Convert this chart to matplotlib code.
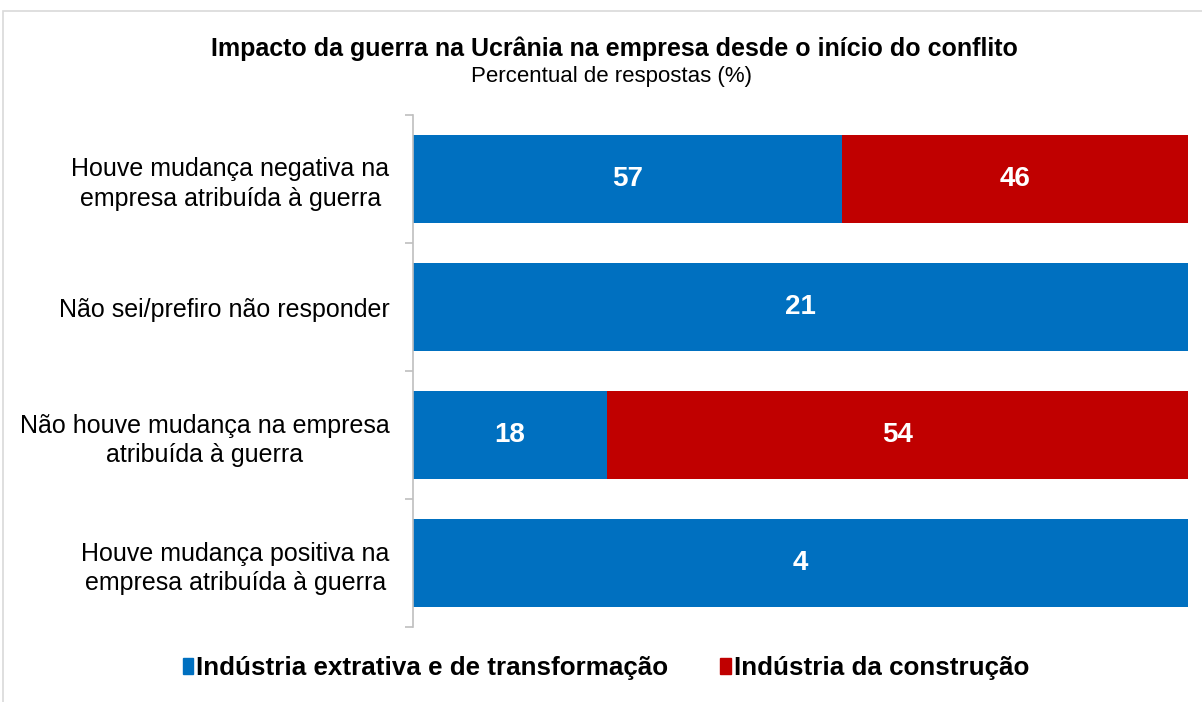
import numpy as np
import matplotlib.pyplot as plt
from matplotlib.patches import Rectangle

plt.rcParams['font.family'] = ['Liberation Sans', 'DejaVu Sans']

categories = ["Houve mudança negativa na\nempresa atribuída à guerra",
              "Não sei/prefiro não responder",
              "Não houve mudança na empresa\natribuída à guerra",
              "Houve mudança positiva na\nempresa atribuída à guerra"]
extrativa = [57, 21, 18, 4]
construcao = [46, 0, 54, 0]
series_names = ["Indústria extrativa e de transformação", "Indústria da construção"]
colors = ["#0070C0", "#C00000"]

blue = np.array(extrativa, dtype=float)
red = np.array(construcao, dtype=float)
total = blue + red
blue_share = blue / total * 100
red_share = red / total * 100

fig = plt.figure(figsize=(12.02, 7.02), dpi=100)
# outer frame
fig.patches.append(Rectangle((3 / 1202, -0.01), 1.1, 1 - 11 / 702 + 0.01,
                             transform=fig.transFigure, fill=False,
                             edgecolor="#D9D9D9", linewidth=1.2))

ax = fig.add_axes([0.3436, 0.1068, 0.6448, 0.7294])
y = np.arange(len(categories))
h = 0.69
ax.barh(y, blue_share, height=h, color=colors[0])
ax.barh(y, red_share, left=blue_share, height=h, color=colors[1])

for i in range(len(categories)):
    if blue[i] > 0:
        ax.text(blue_share[i] / 2, y[i], f"{extrativa[i]:.0f}", ha="center", va="center",
                color="white", fontsize=20, fontweight="bold")
    if red[i] > 0:
        ax.text(blue_share[i] + red_share[i] / 2, y[i], f"{construcao[i]:.0f}", ha="center",
                va="center", color="white", fontsize=20, fontweight="bold")

ax.set_xlim(0, 100)
ax.set_ylim(len(categories) - 0.5, -0.5)
ax.set_yticks(y)
ax.set_yticklabels(categories, fontsize=18, ha="right", multialignment="center",
                   linespacing=1.3)
ax.tick_params(axis="y", which="major", length=0, pad=17)
ax.set_yticks(np.arange(-0.5, len(categories)), minor=True)
ax.tick_params(axis="y", which="minor", length=6, color="#BFBFBF", width=1.2)
ax.set_xticks([])
for s in ["top", "right", "bottom"]:
    ax.spines[s].set_visible(False)
ax.spines["left"].set_color("#BFBFBF")
ax.spines["left"].set_linewidth(1.2)

fig.text(0.511, 0.931, "Impacto da guerra na Ucrânia na empresa desde o início do conflito",
         ha="center", va="center", fontsize=18, fontweight="bold")
fig.text(0.509, 0.891, "Percentual de respostas (%)", ha="center", va="center", fontsize=16)

handles = [Rectangle((0, 0), 1, 1, color=c) for c in colors]
fig.legend(handles, series_names, loc="center", bbox_to_anchor=(0.504, 0.048), ncol=2,
           frameon=False, prop={"size": 18.7, "weight": "bold"}, handlelength=0.4,
           handleheight=0.55, handletextpad=0.12, columnspacing=2.0)

fig.savefig("out.png", dpi=100)
